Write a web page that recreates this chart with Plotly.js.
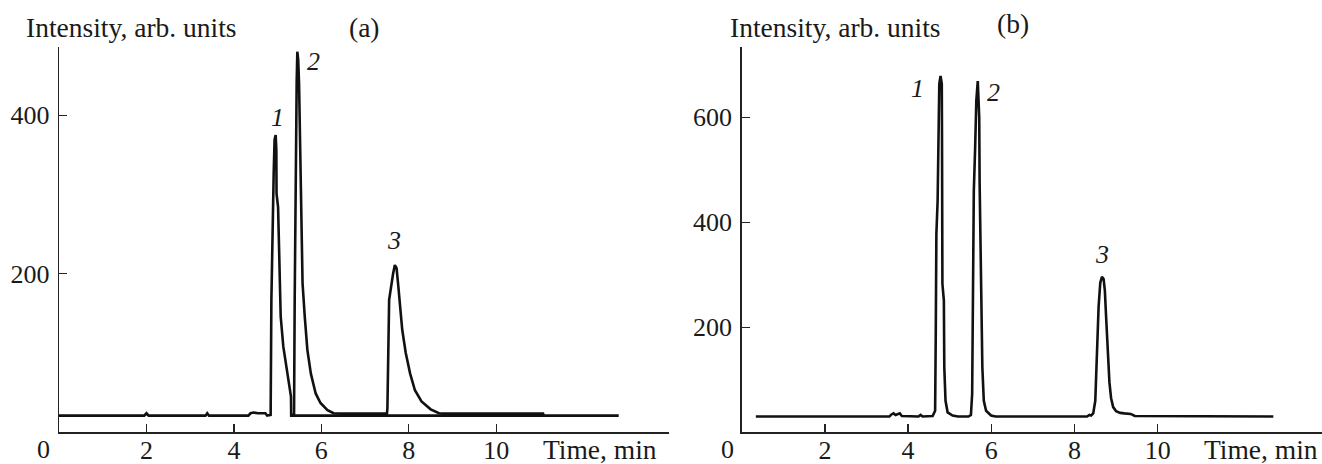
<!DOCTYPE html>
<html>
<head>
<meta charset="utf-8">
<script src="https://cdn.plot.ly/plotly-3.0.1.min.js"></script>
<style>html,body{margin:0;padding:0;background:#fff;}#chart{width:1322px;height:464px;}</style>
</head>
<body>
<div id="chart"></div>
<script>
// ---- Data ----
// Panel (a): chromatogram with peak 1
const timeA1 = [0, 1.95, 2.0, 2.05, 3.35, 3.39, 3.43, 4.33, 4.38, 4.45, 4.55, 4.72, 4.76, 4.84, 4.857, 4.887, 4.91, 4.93, 4.955, 4.97, 4.975, 5.01, 5.04, 5.07, 5.13, 5.21, 5.27, 5.305, 5.31, 12.8];
const intA1  = [21, 21, 24, 21, 21, 24, 21, 21, 24, 25, 24, 24, 21, 22, 167, 293, 327, 369, 375, 356, 301, 284, 209, 146, 108, 79, 58, 45, 21, 21];
// Panel (a): chromatogram with peaks 2 and 3
const timeA2 = [5.3, 5.375, 5.39, 5.405, 5.42, 5.435, 5.45, 5.47, 5.49, 5.51, 5.53, 5.55, 5.57, 5.62, 5.68, 5.76, 5.87, 5.98, 6.14, 6.28, 6.5, 7.5, 7.51, 7.55, 7.58, 7.64, 7.68, 7.72, 7.76, 7.80, 7.85, 7.93, 8.03, 8.14, 8.29, 8.50, 8.69, 8.8, 11.07, 11.08];
const intA2  = [22, 22, 167, 293, 369, 440, 480, 470, 440, 377, 314, 251, 188, 146, 104, 74, 49, 37, 28, 24, 23.5, 23.5, 30, 167, 180, 200, 211, 207, 184, 158, 129, 100, 74, 53, 39, 29, 24, 23.5, 23.5, 21];
// Panel (b): chromatogram with peaks 1, 2, 3
const timeB = [0.34, 3.55, 3.6, 3.65, 3.7, 3.75, 3.8, 3.85, 4.25, 4.3, 4.35, 4.59, 4.65, 4.665, 4.68, 4.71, 4.725, 4.75, 4.78, 4.81, 4.815, 4.82, 4.825, 4.86, 4.87, 4.90, 4.95, 5.07, 5.2, 5.45, 5.51, 5.54, 5.56, 5.58, 5.61, 5.64, 5.675, 5.71, 5.72, 5.74, 5.77, 5.785, 5.82, 5.875, 5.995, 6.1, 8.3, 8.36, 8.4, 8.45, 8.5, 8.54, 8.58, 8.62, 8.66, 8.70, 8.73, 8.76, 8.80, 8.84, 8.88, 8.93, 9.0, 9.1, 9.2, 9.35, 9.45, 12.78];
const intB  = [30, 30, 34, 36, 33, 35, 36, 31, 30, 33, 30, 31, 41, 187, 378, 441, 568, 664, 679, 664, 568, 454, 283, 251, 124, 60, 38, 32, 30, 30, 33, 73, 219, 460, 537, 632, 669, 600, 473, 346, 251, 124, 60, 41, 32, 30, 30, 33, 32, 36, 60, 150, 240, 285, 296, 292, 270, 220, 150, 95, 65, 48, 40, 37, 36, 35, 31, 30];
// Tick values
const xTicks = [2, 4, 6, 8, 10];
const yTicksA = [200, 400];
const yTicksB = [200, 400, 600];
const peakLabels = ["1", "2", "3"];

// ---- Layout helpers (pixel -> paper) ----
const W = 1322, H = 464;
const px = x => x / W;
const py = y => 1 - y / H;
const FONT = "Liberation Serif, Times New Roman, serif";
const FS = 26;     // digits
const FT = 27.5;   // words
const INK = "#1a1a1a";

const lineStyle = {color: "#111", width: 2.6};
const traces = [
  {x: timeA1, y: intA1, xaxis: "x", yaxis: "y", mode: "lines", line: lineStyle, hoverinfo: "skip"},
  {x: timeA2, y: intA2, xaxis: "x", yaxis: "y", mode: "lines", line: lineStyle, hoverinfo: "skip"},
  {x: timeB, y: intB, xaxis: "x2", yaxis: "y2", mode: "lines", line: lineStyle, hoverinfo: "skip"}
];

const axisCommon = {
  showgrid: false, zeroline: false, showline: true, linecolor: "#222", linewidth: 1.4,
  ticks: "inside", ticklen: 8, tickwidth: 1.2, tickcolor: "#222",
  tickfont: {family: FONT, size: FS, color: INK}, fixedrange: true
};
const xAxisExtra = {ticklabelstandoff: -6};
const yAxisExtra = {ticklabelstandoff: 3};
const yDomain = [py(432.3), py(47)];

function ann(text, x, y, opts) {
  return Object.assign({text: text, x: px(x), y: py(y), xref: "paper", yref: "paper",
    showarrow: false, xanchor: "center", yanchor: "middle",
    font: {family: FONT, size: FT, color: INK}}, opts || {});
}

const digitFont = {family: FONT, size: FS, color: INK};
const annotations = [
  ann("Intensity, arb. units", 24, 27, {xanchor: "left"}),
  ann("Intensity, arb. units", 728, 27, {xanchor: "left"}),
  ann("(a)", 364, 27),
  ann("(b)", 1013, 24),
  ann("0", 43, 449, {font: digitFont}),
  ann("0", 727, 449, {font: digitFont}),
  ann("Time, min", 659, 449, {xanchor: "right"}),
  ann("Time, min", 1320, 449, {xanchor: "right"}),
  ann("<i>" + peakLabels[0] + "</i>", 277, 118, {font: digitFont}),
  ann("<i>" + peakLabels[1] + "</i>", 313, 62, {font: digitFont}),
  ann("<i>" + peakLabels[2] + "</i>", 394, 240, {font: digitFont}),
  ann("<i>" + peakLabels[0] + "</i>", 917, 89, {font: digitFont}),
  ann("<i>" + peakLabels[1] + "</i>", 993, 92, {font: digitFont}),
  ann("<i>" + peakLabels[2] + "</i>", 1102, 254, {font: digitFont})
];

const layout = {
  width: W, height: H,
  margin: {l: 0, r: 0, t: 0, b: 0, pad: 0},
  paper_bgcolor: "#fff", plot_bgcolor: "#fff",
  showlegend: false,
  xaxis: Object.assign({}, axisCommon, xAxisExtra, {domain: [px(59), px(669)], range: [0, 13.95], tickvals: xTicks, anchor: "y"}),
  yaxis: Object.assign({}, axisCommon, yAxisExtra, {domain: yDomain, range: [0, 486], tickvals: yTicksA, anchor: "x"}),
  xaxis2: Object.assign({}, axisCommon, xAxisExtra, {domain: [px(741.7), 1], range: [0, 13.95], tickvals: xTicks, anchor: "y2"}),
  yaxis2: Object.assign({}, axisCommon, yAxisExtra, {domain: yDomain, range: [0, 734], tickvals: yTicksB, anchor: "x2"}),
  annotations: annotations
};

Plotly.newPlot("chart", traces, layout, {staticPlot: true, displayModeBar: false});
</script>
</body>
</html>
